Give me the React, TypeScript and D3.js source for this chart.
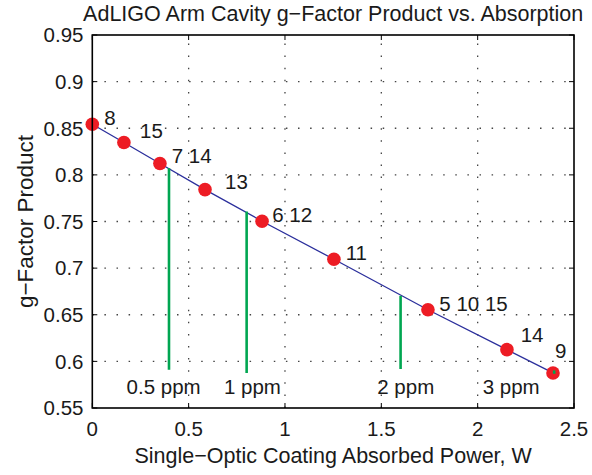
import React from "react";
import * as d3 from "d3";

const pointX = [0, 0.164, 0.351, 0.585, 0.881, 1.254, 1.742, 2.152, 2.391];
const pointY = [0.8543, 0.8347, 0.8122, 0.7842, 0.7503, 0.7095, 0.6554, 0.6126, 0.5876];
const pointLabels = ["8", "15", "7 14", "13", "6 12", "11", "5 10 15", "14", "9"];
const labelX = [0.062, 0.2475, 0.412, 0.689, 0.934, 1.315, 1.801, 2.223, 2.401];
const labelY = [0.8535, 0.8393, 0.8125, 0.785, 0.750, 0.709, 0.654, 0.6207, 0.6036];

const ppmX = [0.398, 0.801, 1.600, 2.397];
const ppmBottom = [0.591, 0.5875, 0.5918, 0.5867];
const ppmTop = [0.8072, 0.7607, 0.6703, 0.5903];
const ppmLabels = ["0.5 ppm", "1 ppm", "2 ppm", "3 ppm"];
const ppmLabelX = [0.178, 0.683, 1.479, 2.026];
const ppmLabelY = 0.5653;

const xTicks = [0, 0.5, 1, 1.5, 2, 2.5];
const xTickLabels = ["0", "0.5", "1", "1.5", "2", "2.5"];
const yTicks = [0.55, 0.6, 0.65, 0.7, 0.75, 0.8, 0.85, 0.9, 0.95];
const yTickLabels = ["0.55", "0.6", "0.65", "0.7", "0.75", "0.8", "0.85", "0.9", "0.95"];

const title = "AdLIGO Arm Cavity g\u2212Factor Product vs. Absorption";
const xLabel = "Single\u2212Optic Coating Absorbed Power, W";
const yLabel = "g\u2212Factor Product";

export default function App() {
  const W = 592, H = 475;
  const left = 92.3, right = 574, top = 35, bottom = 408;
  const x = d3.scaleLinear().domain([0, 2.5]).range([left, right]);
  const y = d3.scaleLinear().domain([0.55, 0.95]).range([bottom, top]);
  const font = "'Liberation Sans', Arial, Helvetica, sans-serif";
  const tickFs = 20.5;
  const line = d3.line<number>().x((_, i) => x(pointX[i])).y((_, i) => y(pointY[i]));
  const tl = 5;
  return (
    <svg width={W} height={H} style={{ position: "absolute", left: 0, top: 0, background: "#fff" }} fontFamily={font}>
      <rect x={0} y={0} width={W} height={H} fill="#fff" />
      {xTicks.slice(1, -1).map((t) => (
        <line key={"gx" + t} x1={x(t)} x2={x(t)} y1={bottom} y2={top} stroke="#444" strokeWidth={1.3} strokeDasharray="1.5,10.6" />
      ))}
      {yTicks.slice(1, -1).map((t) => (
        <line key={"gy" + t} x1={left} x2={right} y1={y(t)} y2={y(t)} stroke="#444" strokeWidth={1.3} strokeDasharray="1.5,10.6" />
      ))}
      {xTicks.map((t) => (
        <g key={"tx" + t}>
          <line x1={x(t)} x2={x(t)} y1={bottom} y2={bottom - tl} stroke="#000" strokeWidth={1} />
          <line x1={x(t)} x2={x(t)} y1={top} y2={top + tl} stroke="#000" strokeWidth={1} />
        </g>
      ))}
      {yTicks.map((t) => (
        <g key={"ty" + t}>
          <line x1={left} x2={left + tl} y1={y(t)} y2={y(t)} stroke="#000" strokeWidth={1} />
          <line x1={right} x2={right - tl} y1={y(t)} y2={y(t)} stroke="#000" strokeWidth={1} />
        </g>
      ))}
      <path d={line(pointX) || ""} fill="none" stroke="#2b2f9c" strokeWidth={1.3} />
      {pointX.map((px, i) => (
        <circle key={"p" + i} cx={x(px)} cy={y(pointY[i])} r={6.8} fill="#ed1c24" />
      ))}
      {ppmX.map((px, i) => (
        <line key={"g" + i} x1={x(px)} x2={x(px)} y1={y(ppmBottom[i])} y2={y(ppmTop[i])} stroke="#00a651" strokeWidth={2.6} />
      ))}
      {pointLabels.map((s, i) => (
        <text key={"l" + i} x={x(labelX[i])} y={y(labelY[i])} fontSize={tickFs} fill="#1a1a1a">{s}</text>
      ))}
      {ppmLabels.map((s, i) => (
        <text key={"pl" + i} x={x(ppmLabelX[i])} y={y(ppmLabelY)} fontSize={tickFs} fill="#1a1a1a">{s}</text>
      ))}
      <rect x={left} y={top} width={right - left} height={bottom - top} fill="none" stroke="#000" strokeWidth={1.6} />
      {xTicks.map((t, i) => (
        <text key={"xl" + t} x={x(t)} y={435.5} fontSize={tickFs} textAnchor="middle" fill="#1a1a1a">{xTickLabels[i]}</text>
      ))}
      {yTicks.map((t, i) => (
        <text key={"yl" + t} x={83.5} y={y(t) + 7.3} fontSize={tickFs} textAnchor="end" fill="#1a1a1a">{yTickLabels[i]}</text>
      ))}
      <text x={(left + right) / 2} y={21} fontSize={21.5} textAnchor="middle" fill="#1a1a1a">{title}</text>
      <text x={(left + right) / 2} y={463} fontSize={21.5} textAnchor="middle" fill="#1a1a1a">{xLabel}</text>
      <text transform={`translate(33,${(top + bottom) / 2}) rotate(-90)`} fontSize={22.5} textAnchor="middle" fill="#1a1a1a">{yLabel}</text>
    </svg>
  );
}
